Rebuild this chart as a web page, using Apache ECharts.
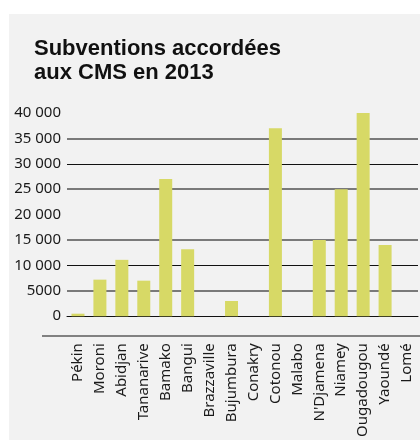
<!DOCTYPE html>
<html>
<head>
<meta charset="utf-8">
<script src="https://cdn.jsdelivr.net/npm/echarts@6/dist/echarts.min.js"></script>
<style>
  html, body { margin: 0; padding: 0; background: #fff; }
  #chart { width: 420px; height: 440px; }
</style>
</head>
<body>
<div id="chart"></div>
<script>
// villes (catégories)
const cities = ['Pékin', 'Moroni', 'Abidjan', 'Tananarive', 'Bamako', 'Bangui', 'Brazzaville', 'Bujumbura',
  'Conakry', 'Cotonou', 'Malabo', "N'Djamena", 'Niamey', 'Ougadougou', 'Yaoundé', 'Lomé'];
// subventions 2013
const grants = [500, 7200, 11100, 7000, 27000, 13200, 0, 3000, 0, 37000, 0, 15000, 25000, 40000, 14000, 0];
// libellés de l'axe vertical
const yTicks = [0, 5000, 10000, 15000, 20000, 25000, 30000, 35000, 40000];
const yTickLabels = ['0', '5000', '10 000', '15 000', '20 000', '25 000', '30 000', '35 000', '40 000'];

const chart = echarts.init(document.getElementById('chart'));

const font = '"Noto Sans", sans-serif';

chart.setOption({
  animation: false,
  backgroundColor: '#fff',
  graphic: [
    {
      type: 'rect', z: -10, silent: true,
      shape: { x: 9, y: 14, width: 411, height: 426 },
      style: { fill: '#f2f2f2' }
    },
    {
      type: 'line', z: 10, silent: true,
      shape: { x1: 42, y1: 336, x2: 420, y2: 336 },
      style: { stroke: '#111', lineWidth: 1.2 }
    }
  ],
  title: {
    text: 'Subventions accordées\naux CMS en 2013',
    left: 29,
    top: 32,
    textStyle: {
      fontFamily: '"Liberation Sans", Arial, sans-serif',
      fontWeight: 'bold',
      fontSize: 22,
      lineHeight: 24,
      color: '#111'
    }
  },
  grid: { left: 67, right: 2, top: 113, bottom: 122 },
  xAxis: {
    type: 'category',
    data: cities,
    axisLine: { lineStyle: { color: '#111', width: 1 } },
    axisTick: { inside: true, length: 4, lineStyle: { color: '#111' } },
    axisLabel: {
      rotate: 90,
      margin: 27,
      fontFamily: font,
      fontSize: 15,
      color: '#1a1a1a',
      interval: 0
    }
  },
  yAxis: [
    {
      type: 'value',
      min: 0, max: 40000, interval: 5000,
      axisLine: { show: false },
      axisTick: { show: false },
      axisLabel: {
        margin: 6,
        fontFamily: font,
        fontSize: 15,
        color: '#1a1a1a',
        formatter: v => yTickLabels[yTicks.indexOf(v)]
      },
      splitLine: { lineStyle: { color: ['transparent', '#7a7a7a'], width: 2 } }
    },
    {
      type: 'value',
      min: 0, max: 40000, interval: 10000,
      axisLine: { show: false },
      axisTick: { show: false },
      axisLabel: { show: false },
      splitLine: { lineStyle: { color: ['transparent', '#111'], width: 1 } }
    }
  ],
  series: [
    {
      type: 'bar',
      data: grants,
      barWidth: 13,
      itemStyle: { color: '#d7d966' }
    }
  ]
});
</script>
</body>
</html>
